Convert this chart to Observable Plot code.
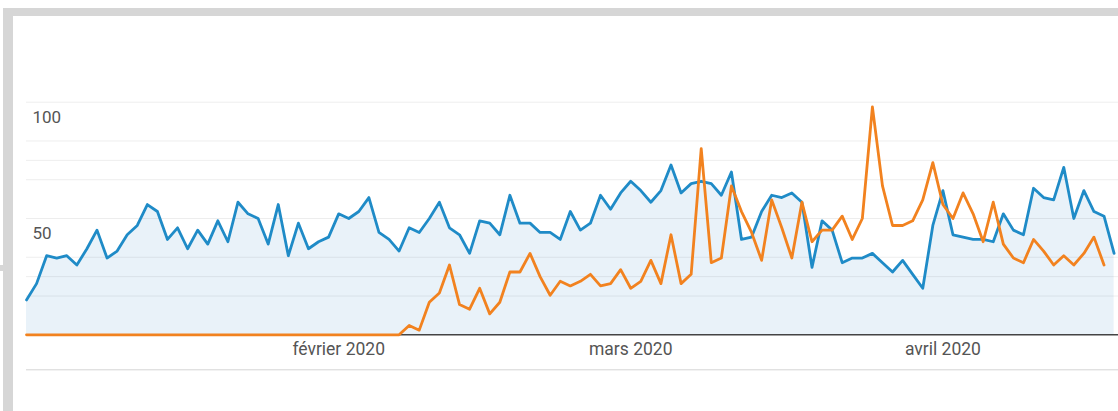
<!DOCTYPE html>
<html><head><meta charset="utf-8">
<script src="https://cdn.jsdelivr.net/npm/d3@7"></script>
<script src="https://cdn.jsdelivr.net/npm/@observablehq/plot@0.6"></script>
<style>
html,body{margin:0;padding:0;background:#fff;}
#wrap{position:relative;width:1118px;height:411px;overflow:hidden;background:#fff;}
.band{position:absolute;background:#d6d6d6;}
#chart{position:absolute;left:0;top:0;}
</style></head><body>
<div id="wrap">
<div class="band" style="left:3px;top:8px;width:1115px;height:8px"></div>
<div class="band" style="left:3px;top:8px;width:10px;height:403px"></div>
<div class="band" style="left:0;top:265px;width:4px;height:6px"></div>
<div id="chart"></div>
</div>
<script>
// Daily series starting 1 Jan 2020
const startDate = "2020-01-01";

const blueValues = [
  15, 22, 34, 33, 34, 30, 37, 45, 33, 36,
  43, 47, 56, 53, 41, 46, 37, 45, 39, 49,
  40, 57, 52, 50, 39, 56, 34, 48, 37, 40,
  42, 52, 50, 53, 59, 44, 41, 36, 46, 44,
  50, 57, 46, 43, 35, 49, 48, 43, 60, 48,
  48, 44, 44, 41, 53, 45, 48, 60, 54, 61,
  66, 62, 57, 62, 73, 61, 65, 66, 65, 60,
  70, 41, 42, 53, 60, 59, 61, 57, 29, 49,
  45, 31, 33, 33, 35, 31, 27, 32, 26, 20,
  47, 62, 43, 42, 41, 41, 40, 52, 45, 43,
  63, 59, 58, 72, 50, 62, 53, 51, 35
];

const orangeValues = [
  0, 0, 0, 0, 0, 0, 0, 0, 0, 0,
  0, 0, 0, 0, 0, 0, 0, 0, 0, 0,
  0, 0, 0, 0, 0, 0, 0, 0, 0, 0,
  0, 0, 0, 0, 0, 0, 0, 0, 4, 2,
  14, 18, 30, 13, 11, 20, 9, 14, 27, 27,
  35, 25, 17, 23, 21, 23, 26, 21, 22, 28,
  20, 23, 32, 22, 43, 22, 26, 80, 31, 33,
  64, 53, 44, 32, 58, 46, 33, 57, 40, 45,
  45, 51, 41, 50, 98, 64, 47, 47, 49, 58,
  74, 56, 50, 61, 52, 40, 57, 39, 33, 31,
  41, 36, 30, 34, 30, 35, 42, 30
];

const monthTickDates = ["2020-02-01", "2020-03-01", "2020-04-01"];
const monthTickLabels = ["février 2020", "mars 2020", "avril 2020"];
const yTickValues = [50, 100];
const gridValues = [16.67, 25, 33.33, 50, 66.67, 75, 83.33, 100];

const t0 = new Date(startDate + "T00:00:00Z");
const dayDate = i => new Date(t0.getTime() + i * 86400000);
const blueData = blueValues.map((v, i) => ({date: dayDate(i), value: v}));
const orangeData = orangeValues.map((v, i) => ({date: dayDate(i), value: v}));
const monthTicks = monthTickDates.map((d, i) => ({date: new Date(d + "T00:00:00Z"), label: monthTickLabels[i]}));

const BLUE = "#1f8bc7";
const ORANGE = "#f2821f";

const chart = Plot.plot({
  width: 1118,
  height: 411,
  marginLeft: 26,
  marginRight: 0,
  marginTop: 101.7,
  marginBottom: 76.7,
  x: {type: "utc", domain: [blueData[0].date, blueData[blueData.length - 1].date], range: [26, 1113.6], axis: null},
  y: {domain: [0, 100], axis: null},
  style: {fontFamily: "Roboto, 'Liberation Sans', sans-serif", background: "transparent", overflow: "visible"},
  marks: [
    Plot.areaY(blueData, {x: "date", y: "value", fill: "#e9f2f9"}),
    Plot.ruleY(gridValues, {stroke: "#000", strokeOpacity: 0.07, strokeWidth: 1}),
    Plot.ruleY([0], {stroke: "#444", strokeWidth: 1.5}),
    Plot.ruleY([0], {dy: 35, stroke: "#d4d4d4", strokeWidth: 1}),
    Plot.line(blueData, {x: "date", y: "value", stroke: BLUE, strokeWidth: 2.8}),
    Plot.line(orangeData, {x: "date", y: "value", stroke: ORANGE, strokeWidth: 2.8}),
    Plot.text(yTickValues, {y: d => d, text: d => String(d), frameAnchor: "left", textAnchor: "start", dx: 6, dy: 15, fontSize: 17, fill: "#555"}),
    Plot.text(monthTicks, {x: "date", text: "label", frameAnchor: "bottom", dy: 20, fontSize: 17.5, fill: "#555"})
  ]
});
document.getElementById("chart").appendChild(chart);
</script>
</body></html>
